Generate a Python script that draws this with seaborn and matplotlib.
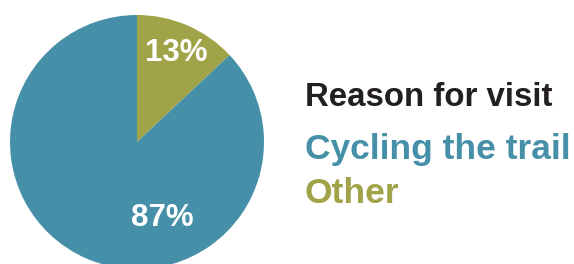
import matplotlib
matplotlib.use("Agg")
import matplotlib.pyplot as plt
import seaborn as sns

sns.set_style("white")
plt.rcParams['font.family'] = ['Liberation Sans', 'DejaVu Sans']

categories = ["Other", "Cycling the trail"]
values = [13, 87]
colors = ["#A0A347", "#468FA8"]
legend_title = "Reason for visit"

W, H = 574, 264
fig = plt.figure(figsize=(W / 100, H / 100), dpi=100)
ax = fig.add_axes([0, 0, 1, 1])

cx, cy, r = 137, H - 142, 127
wedges, _ = ax.pie(values, colors=colors, startangle=90, counterclock=False,
                   center=(cx, cy), radius=r, frame=True,
                   wedgeprops=dict(linewidth=0))
ax.set_xlim(0, W)
ax.set_ylim(0, H)
ax.set_aspect("equal")
ax.axis("off")

label_pos = [(176, H - 53), (162, H - 218)]
for v, (x, y) in zip(values, label_pos):
    ax.text(x, y, f"{v}%", color="white", fontsize=22.5, fontweight="bold",
            ha="center", va="center")

ax.text(305, H - 106, legend_title, color="#231F20", fontsize=23.8,
        fontweight="bold", ha="left", va="baseline")
leg_order = ["Cycling the trail", "Other"]
baselines = [H - 159, H - 203]
for name, yb in zip(leg_order, baselines):
    c = colors[categories.index(name)]
    ax.text(305, yb, name, color=c, fontsize=25.5, fontweight="bold",
            ha="left", va="baseline")

fig.savefig("out.png", dpi=100)
